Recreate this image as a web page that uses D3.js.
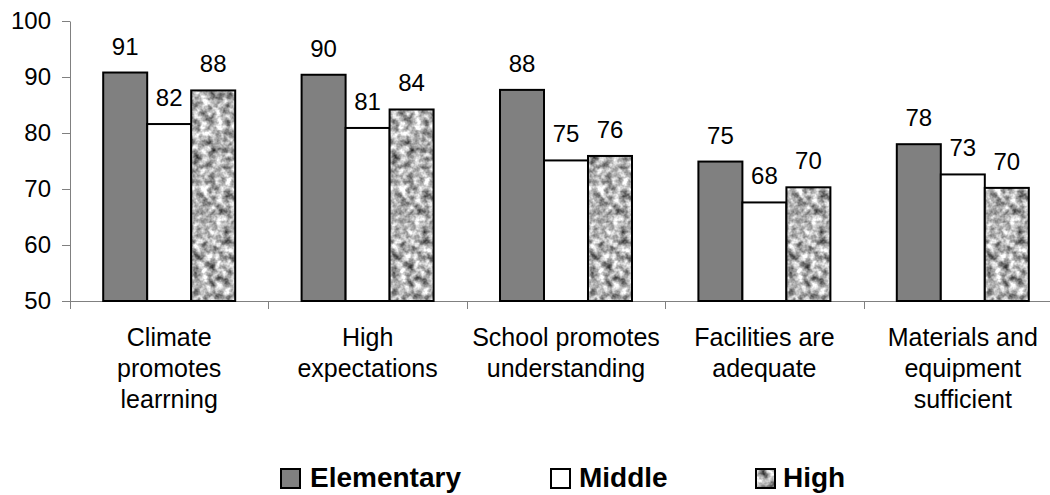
<!DOCTYPE html>
<html>
<head>
<meta charset="utf-8">
<script src="https://cdn.jsdelivr.net/npm/d3@7/dist/d3.min.js"></script>
<style>
  html, body { margin: 0; padding: 0; background: #fff; }
  svg { display: block; font-family: "Liberation Sans", Arial, sans-serif; }
</style>
</head>
<body>
<svg id="chart" width="1050" height="495"></svg>
<script>
// ---- data ----
const categories = [
  ["Climate", "promotes", "learrning"],
  ["High", "expectations"],
  ["School promotes", "understanding"],
  ["Facilities are", "adequate"],
  ["Materials and", "equipment", "sufficient"]
];
const categoryKeys = ["Climate promotes learrning", "High expectations", "School promotes understanding", "Facilities are adequate", "Materials and equipment sufficient"];
const seriesNames = ["Elementary", "Middle", "High"];
const elementary = [90.8, 90.4, 87.7, 74.9, 78.0];
const middle     = [81.6, 80.9, 75.1, 67.6, 72.6];
const high       = [87.6, 84.2, 75.9, 70.3, 70.2];
const yTicks = [50, 60, 70, 80, 90, 100];

const seriesValues = [elementary, middle, high];

const svg = d3.select("#chart");

// ---- defs: granite texture ----
const defs = svg.append("defs");
const f = defs.append("filter").attr("id", "granite")
  .attr("color-interpolation-filters", "sRGB")
  .attr("x", "0%").attr("y", "0%").attr("width", "100%").attr("height", "100%");
f.append("feTurbulence").attr("type", "fractalNoise").attr("baseFrequency", "0.13")
  .attr("numOctaves", 3).attr("seed", 7).attr("result", "noise");
f.append("feColorMatrix").attr("in", "noise").attr("type", "matrix")
  .attr("values", "1.35 0 0 0 0.02  1.35 0 0 0 0.02  1.35 0 0 0 0.02  0 0 0 0 1")
  .attr("result", "gray");
f.append("feComposite").attr("in", "gray").attr("in2", "SourceGraphic").attr("operator", "in");

const fills = ["#808080", "#ffffff", "granite"];

// ---- scales ----
const margin = { left: 70, top: 21, bottom: 301 };
const catW = 198.4;
const x0 = d3.scaleBand().domain(categoryKeys)
  .range([margin.left, margin.left + catW * categoryKeys.length]).padding(0);
const x1 = d3.scaleBand().domain(seriesNames).range([33.2, 165.2]).padding(0);
const y = d3.scaleLinear().domain([50, 100]).range([margin.bottom, margin.top]);

// ---- axes ----
const axisColor = "#808080";
const yAxis = svg.append("g").attr("transform", `translate(${margin.left},0)`)
  .call(d3.axisLeft(y).tickValues(yTicks).tickSize(8).tickPadding(11).tickSizeOuter(0));
yAxis.select(".domain").attr("stroke", axisColor);
yAxis.selectAll(".tick line").attr("stroke", axisColor);
yAxis.selectAll(".tick text").attr("font-size", 24).attr("fill", "#000")
  .attr("font-family", "Liberation Sans, Arial, sans-serif");

// x axis line
svg.append("line")
  .attr("x1", margin.left).attr("x2", 1050)
  .attr("y1", y(50) + 0.5).attr("y2", y(50) + 0.5)
  .attr("stroke", axisColor);
// category boundary ticks
const boundaries = categoryKeys.map(k => x0(k)).concat([x0.range()[1]]);
svg.selectAll("line.ctick").data(boundaries).join("line")
  .attr("class", "ctick")
  .attr("x1", d => Math.round(d) + 0.5).attr("x2", d => Math.round(d) + 0.5)
  .attr("y1", y(50)).attr("y2", y(50) + 8)
  .attr("stroke", axisColor);

// ---- bars ----
const groups = svg.append("g").selectAll("g").data(categoryKeys).join("g")
  .attr("transform", d => `translate(${x0(d)},0)`);

seriesNames.forEach((s, si) => {
  groups.each(function(cat, ci) {
    const g = d3.select(this);
    const v = seriesValues[si][ci];
    const bx = x1(s), bw = x1.bandwidth();
    const by = y(v), bh = y(50) - y(v);
    if (fills[si] === "granite") {
      g.append("rect").attr("x", bx).attr("y", by).attr("width", bw).attr("height", bh)
        .attr("fill", "#000").attr("filter", "url(#granite)");
      g.append("rect").attr("x", bx).attr("y", by).attr("width", bw).attr("height", bh)
        .attr("fill", "none").attr("stroke", "#000").attr("stroke-width", 2);
    } else {
      g.append("rect").attr("x", bx).attr("y", by).attr("width", bw).attr("height", bh)
        .attr("fill", fills[si]).attr("stroke", "#000").attr("stroke-width", 2);
    }
    g.append("text")
      .attr("x", bx + bw / 2).attr("y", by - 18)
      .attr("text-anchor", "middle").attr("font-size", 24).attr("fill", "#000")
      .text(Math.round(v));
  });
});

// ---- category labels ----
groups.each(function(cat, ci) {
  const t = d3.select(this).append("text")
    .attr("x", x0.bandwidth() / 2).attr("y", 346)
    .attr("text-anchor", "middle").attr("font-size", 25).attr("fill", "#000");
  categories[ci].forEach((line, li) => {
    t.append("tspan").attr("x", x0.bandwidth() / 2).attr("dy", li === 0 ? 0 : 31).text(line);
  });
});

// ---- legend ----
const legendPos = [
  { box: 280, text: 310 },
  { box: 550, text: 579 },
  { box: 755, text: 783 }
];
const lg = svg.append("g");
seriesNames.forEach((s, si) => {
  const p = legendPos[si];
  if (fills[si] === "granite") {
    lg.append("rect").attr("x", p.box + 1).attr("y", 469).attr("width", 19).attr("height", 19)
      .attr("fill", "#000").attr("filter", "url(#granite)");
    lg.append("rect").attr("x", p.box + 1).attr("y", 469).attr("width", 19).attr("height", 19)
      .attr("fill", "none").attr("stroke", "#000").attr("stroke-width", 2);
  } else {
    lg.append("rect").attr("x", p.box + 1).attr("y", 469).attr("width", 19).attr("height", 19)
      .attr("fill", fills[si]).attr("stroke", "#000").attr("stroke-width", 2);
  }
  lg.append("text").attr("x", p.text).attr("y", 487)
    .attr("font-size", 28).attr("font-weight", "bold").attr("fill", "#000").text(s);
});
</script>
</body>
</html>
